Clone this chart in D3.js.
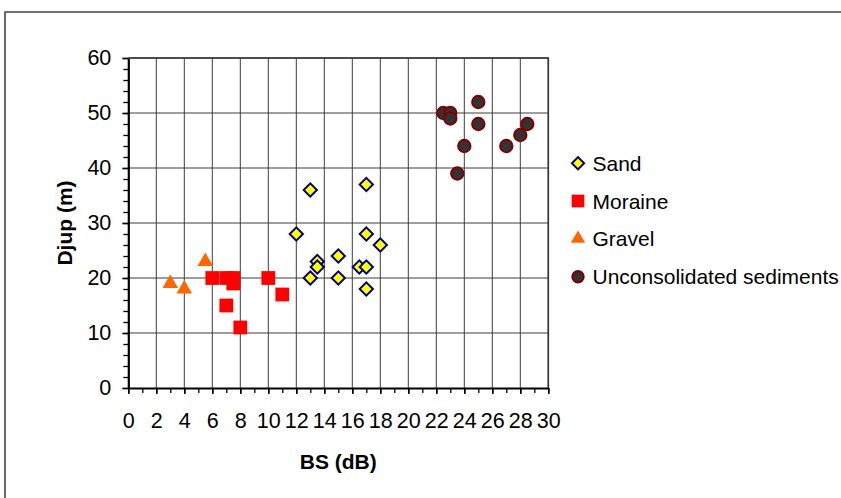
<!DOCTYPE html>
<html>
<head>
<meta charset="utf-8">
<script src="https://cdn.jsdelivr.net/npm/d3@7"></script>
<style>
  html, body { margin: 0; padding: 0; background: #fff; }
  svg { display: block; font-family: "Liberation Sans", Arial, sans-serif; }
</style>
</head>
<body>
<svg id="chart" width="841" height="498"></svg>
<script>
// Backscatter strength (dB) against depth (m) by sediment type
const sandBS   = [13, 17, 12, 17, 18, 15, 13.5, 13.5, 13, 15, 16.5, 17, 17];
const sandDjup = [36, 37, 28, 28, 26, 24, 23,   22,   20, 20, 22,   22, 18];

const moraineBS   = [6, 7, 7.5, 7.5, 10, 11, 7, 8];
const moraineDjup = [20, 20, 20, 19, 20, 17, 15, 11];

const gravelBS   = [5.5, 3, 4];
const gravelDjup = [23, 19, 18];

const unconsBS   = [25, 22.5, 23, 23, 25, 28.5, 28, 24, 27, 23.5];
const unconsDjup = [52, 50,   50, 49, 48, 48,   46, 44, 44, 39];

const xTicks = d3.range(0, 31, 2);
const yTicks = d3.range(0, 61, 10);
const seriesNames = ["Sand", "Moraine", "Gravel", "Unconsolidated sediments"];

const svg = d3.select("#chart");

// outer chart frame (open on the right and bottom)
svg.append("path")
  .attr("d", "M5,498 L5,12 L841,12")
  .attr("fill", "none").attr("stroke", "#444").attr("stroke-width", 1.6);

const x = d3.scaleLinear().domain([0, 30]).range([128.3, 548.3]);
const y = d3.scaleLinear().domain([0, 60]).range([388, 58]);

// gridlines
const grid = svg.append("g").attr("stroke", "#3c3c3c").attr("stroke-width", 1);
grid.selectAll("line.v").data(xTicks.filter(d => d > 0)).join("line")
  .attr("x1", d => x(d)).attr("x2", d => x(d))
  .attr("y1", y(0)).attr("y2", y(60));
grid.selectAll("line.h").data(yTicks.filter(d => d > 0)).join("line")
  .attr("x1", x(0)).attr("x2", x(30))
  .attr("y1", d => y(d)).attr("y2", d => y(d));

// minor ticks
svg.append("g").attr("transform", `translate(${x(0)},0)`)
  .call(d3.axisLeft(y).tickValues(d3.range(0, 61, 2)).tickSize(5).tickFormat(""))
  .call(g => g.select(".domain").remove())
  .selectAll("line").attr("stroke", "#000").attr("stroke-width", 1.3);
svg.append("g").attr("transform", `translate(0,${y(0)})`)
  .call(d3.axisBottom(x).tickValues(d3.range(0, 31, 1)).tickSize(5).tickFormat(""))
  .call(g => g.select(".domain").remove())
  .selectAll("line").attr("stroke", "#000").attr("stroke-width", 1.3);

// major axes
const yAxis = svg.append("g").attr("transform", `translate(${x(0)},0)`)
  .call(d3.axisLeft(y).tickValues(yTicks).tickSize(6).tickPadding(11).tickSizeOuter(0));
const xAxis = svg.append("g").attr("transform", `translate(0,${y(0)})`)
  .call(d3.axisBottom(x).tickValues(xTicks).tickSize(6).tickPadding(19).tickSizeOuter(0));
[yAxis, xAxis].forEach(g => {
  g.select(".domain").attr("stroke", "#000").attr("stroke-width", 2.2);
  g.selectAll(".tick line").attr("stroke", "#000").attr("stroke-width", 1.5);
  g.selectAll(".tick text").attr("fill", "#000")
    .style("font-family", "'Liberation Sans', Arial, sans-serif").style("font-size", "21.5px");
});

// plot frame: top and right edges
svg.append("path")
  .attr("d", `M${x(0)},${y(60)} L${x(30)},${y(60)} L${x(30)},${y(0)}`)
  .attr("fill", "none").attr("stroke", "#333").attr("stroke-width", 1.6);

// axis titles
svg.append("text").attr("x", x(15)).attr("y", 469)
  .attr("text-anchor", "middle").attr("font-weight", "bold").attr("font-size", 21)
  .text("BS (dB)");
svg.append("text").attr("transform", `translate(72,${(y(0) + y(60)) / 2}) rotate(-90)`)
  .attr("text-anchor", "middle").attr("font-weight", "bold").attr("font-size", 21)
  .text("Djup (m)");

// marker styles per series
const styles = [
  { type: d3.symbolSquare, rot: 45, size: 88, fill: "#ffff00", stroke: "#000080", sw: 2 },
  { type: d3.symbolSquare, rot: 0, size: 190, fill: "#ff0000", stroke: "none", sw: 0 },
  { type: d3.symbolTriangle, rot: 0, size: 105, fill: "#ff6600", stroke: "none", sw: 0 },
  { type: d3.symbolCircle, rot: 0, size: 120, fill: "#333333", stroke: "#800000", sw: 2 }
];

function pairs(xs, ys) { return xs.map((v, i) => [v, ys[i]]); }
const seriesData = [
  pairs(sandBS, sandDjup),
  pairs(moraineBS, moraineDjup),
  pairs(gravelBS, gravelDjup),
  pairs(unconsBS, unconsDjup)
];

seriesData.forEach((pts, si) => {
  const st = styles[si];
  svg.append("g").selectAll("path").data(pts).join("path")
    .attr("d", d3.symbol().type(st.type).size(st.size))
    .attr("transform", d => `translate(${x(d[0])},${y(d[1])}) rotate(${st.rot})`)
    .attr("fill", st.fill).attr("stroke", st.stroke).attr("stroke-width", st.sw);
});

// legend
const legendY = [163.3, 201, 238.7, 276.7];
const legend = svg.append("g");
seriesNames.forEach((name, i) => {
  const st = styles[i];
  legend.append("path")
    .attr("d", d3.symbol().type(st.type).size(st.size * 0.85))
    .attr("transform", `translate(578,${legendY[i]}) rotate(${st.rot})`)
    .attr("fill", st.fill).attr("stroke", st.stroke).attr("stroke-width", st.sw);
  legend.append("text").attr("x", 592.5).attr("y", legendY[i])
    .attr("dy", "0.36em").attr("font-size", 21).text(name);
});
</script>
</body>
</html>
